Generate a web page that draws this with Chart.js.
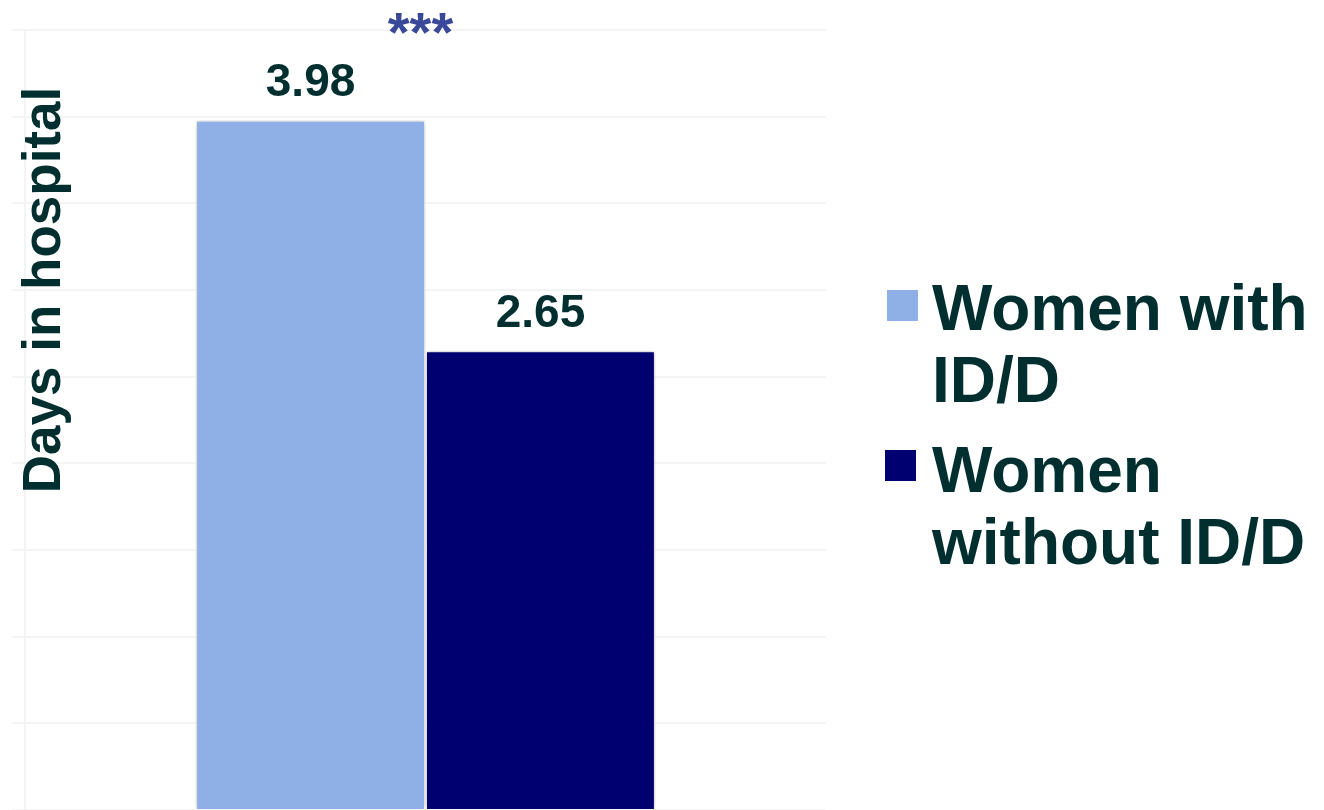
<!DOCTYPE html>
<html>
<head>
<meta charset="utf-8">
<script src="https://cdn.jsdelivr.net/npm/chart.js@4/dist/chart.umd.min.js"></script>
<style>
html,body{margin:0;padding:0;background:#fff;}
#wrap{width:1324px;height:810px;position:relative;}
</style>
</head>
<body>
<div id="wrap"><canvas id="c" width="1324" height="810"></canvas></div>
<script>
// ---- data ----
const categories = ["Length of stay"];
const seriesNames = ["Women with ID/D", "Women without ID/D"];
const legendLines = [["Women with", "ID/D"], ["Women", "without ID/D"]];
const withIDD = [3.98];
const withoutIDD = [2.65];
const valueLabels = ["3.98", "2.65"];
const significance = "***";
const yTitle = "Days in hospital";
const yMin = 0, yMax = 4.5, yStep = 0.5;

const TEXT = "#012e2e";
const FONT = "'Liberation Sans', Arial, Helvetica, sans-serif";

const shadowPlugin = {
  id: "shadow",
  beforeDatasetsDraw(chart) {
    const ctx = chart.ctx;
    ctx.save();
    ctx.shadowColor = "rgba(0,0,0,0.28)";
    ctx.shadowBlur = 6;
    ctx.shadowOffsetX = 0;
    ctx.shadowOffsetY = 0;
  },
  afterDatasetsDraw(chart) {
    chart.ctx.restore();
  }
};

const annotPlugin = {
  id: "annot",
  afterDraw(chart) {
    const ctx = chart.ctx;
    ctx.save();
    // value labels
    ctx.fillStyle = TEXT;
    ctx.font = "bold 46px " + FONT;
    ctx.textAlign = "center";
    ctx.textBaseline = "alphabetic";
    chart.data.datasets.forEach((ds, i) => {
      const el = chart.getDatasetMeta(i).data[0];
      ctx.fillText(valueLabels[i], el.x, el.y - 24);
    });
    // significance stars
    const a = chart.getDatasetMeta(0).data[0];
    const b = chart.getDatasetMeta(1).data[0];
    ctx.fillStyle = "#3a4899";
    ctx.font = "bold 56px " + FONT;
    ctx.fillText(significance, (a.x + b.x) / 2 - 5, 51);
    // y title
    ctx.save();
    ctx.translate(60, 290);
    ctx.rotate(-Math.PI / 2);
    ctx.fillStyle = TEXT;
    ctx.font = "bold 53px " + FONT;
    ctx.textAlign = "center";
    ctx.textBaseline = "alphabetic";
    ctx.fillText(yTitle, 0, 0);
    ctx.restore();
    // legend
    const boxes = [{x: 887, y: 290}, {x: 885, y: 450}];
    const base = [330, 492];
    chart.data.datasets.forEach((ds, i) => {
      ctx.fillStyle = ds.backgroundColor;
      ctx.fillRect(boxes[i].x, boxes[i].y, 31, 31);
      ctx.fillStyle = TEXT;
      ctx.font = "bold 64px " + FONT;
      ctx.textAlign = "left";
      legendLines[i].forEach((ln, j) => {
        ctx.fillText(ln, 932, base[i] + j * 72);
      });
    });
    ctx.restore();
  }
};

new Chart(document.getElementById("c"), {
  type: "bar",
  data: {
    labels: categories,
    datasets: [
      { label: seriesNames[0], data: withIDD, backgroundColor: "#8eb0e7", borderColor: "#ffffff", borderWidth: 1.5 },
      { label: seriesNames[1], data: withoutIDD, backgroundColor: "#000070", borderColor: "#ffffff", borderWidth: 1.5 }
    ]
  },
  options: {
    responsive: false,
    devicePixelRatio: 1,
    animation: false,
    layout: { padding: { left: 12, top: 30, right: 498, bottom: 0 } },
    plugins: { legend: { display: false }, tooltip: { enabled: false } },
    datasets: { bar: { barPercentage: 1, categoryPercentage: 0.574 } },
    scales: {
      x: { display: false },
      y: {
        min: yMin, max: yMax,
        ticks: { display: false, stepSize: yStep },
        grid: { color: "#f4f4f4", lineWidth: 2, tickLength: 13, drawTicks: true },
        border: { color: "#f4f4f4", width: 2 },
        title: { display: false }
      }
    }
  },
  plugins: [shadowPlugin, annotPlugin]
});
</script>
</body>
</html>
